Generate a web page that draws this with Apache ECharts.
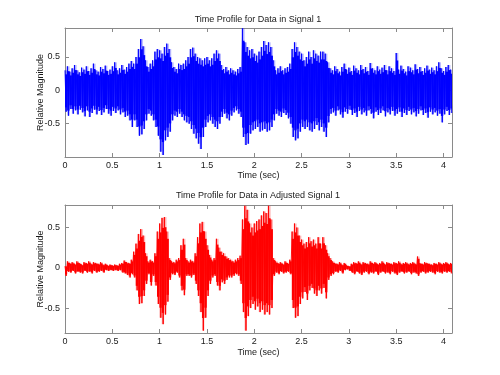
<!DOCTYPE html>
<html>
<head>
<meta charset="utf-8">
<script src="https://cdn.jsdelivr.net/npm/echarts@6/dist/echarts.min.js"></script>
<style>
html,body{margin:0;padding:0;background:#fff;}
#chart{width:500px;height:375px;}
</style>
</head>
<body>
<div id="chart"></div>
<script>
// ---- data (envelope of the waveform per 0.025 s bin) ----
const timeStep = 0.025;
const xTicks = [0, 0.5, 1, 1.5, 2, 2.5, 3, 3.5, 4];
const yTicks = [-0.5, 0, 0.5];
const plotTitles = ['Time Profile for Data in Signal 1', 'Time Profile for Data in Adjusted Signal 1'];

const signalHigh = [
 0.30,0.36,0.28,0.33,0.38,0.30,0.27,0.34,0.31,0.36,
 0.29,0.33,0.40,0.30,0.28,0.35,0.32,0.37,0.29,0.31,
 0.36,0.42,0.30,0.33,0.38,0.31,0.35,0.40,0.44,
 0.40,0.50,0.62,0.77,0.66,0.45,0.35,0.40,0.45,0.58,
 0.62,0.60,0.55,0.65,0.70,0.62,0.42,0.35,0.32,0.40,
 0.38,0.40,0.45,0.50,0.62,0.64,0.55,0.50,0.48,0.45,
 0.48,0.50,0.45,0.48,0.55,0.60,0.55,0.38,0.32,0.35,
 0.30,0.33,0.30,0.28,0.32,0.35,0.93,0.72,0.65,0.60,
 0.62,0.55,0.52,0.58,0.65,0.74,0.68,0.72,0.65,0.45,
 0.30,0.33,0.36,0.30,0.33,0.35,0.40,0.62,0.72,0.65,
 0.58,0.55,0.45,0.50,0.58,0.50,0.60,0.55,0.52,0.58,
 0.58,0.55,0.42,0.33,
 0.30,0.36,0.32,0.28,0.35,0.40,0.31,0.34,0.29,0.37,
 0.33,0.30,0.38,0.32,0.35,0.29,0.41,0.33,0.30,0.36,
 0.31,0.34,0.38,0.30,0.36,0.33,0.29,0.56,0.31,0.37,
 0.32,0.28,0.36,0.34,0.30,0.39,0.32,0.35,0.29,0.33,
 0.37,0.31,0.34,0.30,0.36,0.42,0.33,0.29,0.35,0.38,0.31
];
const signalLow = [
 -0.32,-0.38,-0.28,-0.35,-0.30,-0.36,-0.29,-0.33,-0.39,-0.30,
 -0.40,-0.34,-0.29,-0.36,-0.31,-0.37,-0.33,-0.28,-0.35,-0.38,
 -0.31,-0.34,-0.30,-0.36,-0.33,-0.40,-0.38,-0.45,-0.55,
 -0.45,-0.55,-0.68,-0.66,-0.58,-0.45,-0.35,-0.38,-0.45,-0.55,
 -0.68,-0.92,-0.97,-0.75,-0.70,-0.62,-0.45,-0.38,-0.40,-0.35,
 -0.40,-0.45,-0.48,-0.50,-0.58,-0.65,-0.72,-0.80,-0.88,-0.70,
 -0.55,-0.48,-0.45,-0.50,-0.55,-0.58,-0.50,-0.40,-0.35,-0.42,
 -0.45,-0.38,-0.33,-0.30,-0.35,-0.40,-0.70,-0.82,-0.80,-0.65,
 -0.60,-0.58,-0.55,-0.62,-0.60,-0.58,-0.62,-0.60,-0.55,-0.45,
 -0.35,-0.38,-0.40,-0.34,-0.37,-0.42,-0.50,-0.70,-0.75,-0.72,
 -0.62,-0.55,-0.58,-0.55,-0.60,-0.62,-0.58,-0.52,-0.60,-0.55,
 -0.62,-0.70,-0.48,-0.35,
 -0.33,-0.38,-0.30,-0.36,-0.41,-0.32,-0.35,-0.29,-0.37,-0.34,
 -0.40,-0.31,-0.36,-0.33,-0.38,-0.30,-0.35,-0.42,-0.32,-0.37,
 -0.34,-0.30,-0.39,-0.33,-0.36,-0.31,-0.38,-0.35,-0.32,-0.40,
 -0.34,-0.37,-0.31,-0.36,-0.33,-0.39,-0.35,-0.30,-0.37,-0.34,
 -0.41,-0.32,-0.36,-0.33,-0.38,-0.35,-0.48,-0.36,-0.31,-0.37,-0.34
];
const adjustedHigh = [
 0.02,0.08,0.06,0.07,0.05,0.08,0.06,0.04,0.07,0.06,
 0.08,0.05,0.07,0.06,0.05,0.07,0.04,0.05,0.03,0.04,
 0.03,0.04,0.03,0.05,
 0.06,0.09,0.07,0.06,0.10,0.20,0.30,0.42,0.48,0.40,
 0.18,0.08,0.10,0.08,0.18,0.45,0.55,0.62,0.63,0.45,
 0.12,0.08,0.07,0.10,0.12,0.28,0.36,0.12,0.08,0.10,
 0.08,0.18,0.38,0.55,0.57,0.45,0.28,0.16,0.10,0.12,
 0.36,0.25,0.20,0.18,0.14,0.12,0.10,0.08,0.10,0.12,
 0.15,0.60,0.77,0.72,0.55,0.50,0.55,0.58,0.60,0.65,
 0.70,0.68,0.77,0.60,0.12,0.08,0.06,0.07,0.05,0.08,
 0.06,0.10,0.45,0.55,0.50,0.40,0.35,0.30,0.32,0.38,
 0.33,0.35,0.30,0.38,0.30,0.38,0.28,0.18,0.12,0.08,
 0.06,0.05,0.07,0.04,0.06,0.03,0.02,0.05,0.07,0.06,
 0.08,0.05,0.07,0.06,0.05,0.08,0.06,0.07,0.05,0.06,
 0.08,0.05,0.07,0.06,0.05,0.07,0.06,0.08,0.05,0.06,
 0.07,0.05,0.06,0.07,0.05,0.14,0.06,0.05,0.07,0.06,
 0.05,0.04,0.06,0.05,0.07,0.05,0.06,0.07,0.05,0.06
];
const adjustedLow = [
 -0.10,-0.05,-0.06,-0.04,-0.07,-0.05,-0.06,-0.07,-0.04,-0.06,
 -0.05,-0.07,-0.04,-0.06,-0.05,-0.04,-0.06,-0.03,-0.04,-0.03,
 -0.04,-0.03,-0.04,-0.03,
 -0.06,-0.07,-0.09,-0.12,-0.08,-0.12,-0.28,-0.45,-0.44,-0.35,
 -0.20,-0.08,-0.22,-0.10,-0.22,-0.45,-0.62,-0.70,-0.58,-0.42,
 -0.15,-0.08,-0.09,-0.06,-0.12,-0.28,-0.34,-0.10,-0.10,-0.12,
 -0.09,-0.20,-0.35,-0.55,-0.78,-0.62,-0.35,-0.20,-0.12,-0.10,
 -0.22,-0.28,-0.18,-0.20,-0.15,-0.12,-0.12,-0.10,-0.08,-0.10,
 -0.20,-0.55,-0.78,-0.60,-0.50,-0.45,-0.52,-0.48,-0.55,-0.52,
 -0.58,-0.55,-0.58,-0.50,-0.10,-0.06,-0.08,-0.05,-0.07,-0.06,
 -0.05,-0.08,-0.50,-0.62,-0.60,-0.45,-0.38,-0.30,-0.40,-0.28,
 -0.25,-0.32,-0.35,-0.28,-0.32,-0.25,-0.38,-0.15,-0.10,-0.08,
 -0.05,-0.06,-0.04,-0.07,-0.03,-0.02,-0.04,-0.06,-0.08,-0.05,
 -0.07,-0.09,-0.06,-0.05,-0.08,-0.06,-0.07,-0.05,-0.09,-0.06,
 -0.05,-0.07,-0.06,-0.08,-0.05,-0.07,-0.09,-0.06,-0.05,-0.07,
 -0.06,-0.05,-0.08,-0.06,-0.07,-0.10,-0.06,-0.05,-0.07,-0.06,
 -0.05,-0.06,-0.08,-0.05,-0.06,-0.07,-0.05,-0.06,-0.05,-0.07
];

// ---- helpers building series data from the arrays ----
function trace(hi, lo) {
  const d = [];
  for (let k = 0; k < hi.length; k++) {
    const t = k * timeStep;
    d.push([t, hi[k]]);
    d.push([t + timeStep / 2, lo[k]]);
  }
  return d;
}
function bins(hi, lo) {
  return hi.map((h, k) => [k * timeStep, h, lo[k]]);
}

function bandRenderer(color, frac, opacity) {
  return function (params, api) {
    const t = api.value(0), h = api.value(1), l = api.value(2);
    const a = api.coord([t - timeStep * 0.1, h * frac]);
    const b = api.coord([t + timeStep * 0.9, l * frac]);
    return {
      type: 'rect',
      shape: { x: a[0], y: a[1], width: b[0] - a[0], height: b[1] - a[1] },
      style: { fill: color, opacity: opacity }
    };
  };
}

const FONT = 'Liberation Sans, Arial, Helvetica, sans-serif';
const BOX = '#8a8a8a';
const TXT = '#1a1a1a';

function xAxes(gridIndex, nameGap) {
  return [
    {
      type: 'value', gridIndex, min: 0, max: 4.09, position: 'bottom',
      axisLine: { show: true, onZero: false, lineStyle: { color: BOX, width: 1 } },
      axisTick: { show: true, inside: true, length: 4, customValues: xTicks, lineStyle: { color: BOX } },
      axisLabel: { customValues: xTicks, color: TXT, fontSize: 9, fontFamily: FONT, margin: 4 },
      splitLine: { show: false },
      name: 'Time (sec)', nameLocation: 'middle', nameGap: nameGap, nameMoveOverlap: false,
      nameTextStyle: { color: TXT, fontSize: 9, fontFamily: FONT }
    },
    {
      type: 'value', gridIndex, min: 0, max: 4.09, position: 'top',
      axisLine: { show: true, onZero: false, lineStyle: { color: BOX, width: 1 } },
      axisTick: { show: true, inside: true, length: 4, customValues: xTicks, lineStyle: { color: BOX } },
      axisLabel: { show: false },
      splitLine: { show: false }
    }
  ];
}
function yAxes(gridIndex, min, max) {
  return [
    {
      type: 'value', gridIndex, min, max, position: 'left',
      axisLine: { show: true, onZero: false, lineStyle: { color: BOX, width: 1 } },
      axisTick: { show: true, inside: true, length: 4, customValues: yTicks, lineStyle: { color: BOX } },
      axisLabel: { customValues: yTicks, color: TXT, fontSize: 9, fontFamily: FONT, margin: 5 },
      splitLine: { show: false },
      name: 'Relative Magnitude', nameLocation: 'middle', nameGap: 20, nameMoveOverlap: false,
      nameTextStyle: { color: TXT, fontSize: 9, fontFamily: FONT }
    },
    {
      type: 'value', gridIndex, min, max, position: 'right',
      axisLine: { show: true, onZero: false, lineStyle: { color: BOX, width: 1 } },
      axisTick: { show: true, inside: true, length: 4, customValues: yTicks, lineStyle: { color: BOX } },
      axisLabel: { show: false },
      splitLine: { show: false }
    }
  ];
}

function waveSeries(xi, yi, hi, lo, color) {
  return [
    {
      type: 'custom', xAxisIndex: xi, yAxisIndex: yi, data: bins(hi, lo),
      encode: { x: 0, y: [1, 2] }, renderItem: bandRenderer(color, 1.0, 0.3), z: 1, clip: true
    },
    {
      type: 'line', xAxisIndex: xi, yAxisIndex: yi, data: trace(hi, lo),
      showSymbol: false, symbol: 'none', sampling: null, z: 2,
      lineStyle: { color: color, width: 1, opacity: 0.9 }, itemStyle: { color: color }
    },
    {
      type: 'custom', xAxisIndex: xi, yAxisIndex: yi, data: bins(hi, lo),
      encode: { x: 0, y: [1, 2] }, renderItem: bandRenderer(color, 0.8, 1), z: 3, clip: true
    }
  ];
}

const chart = echarts.init(document.getElementById('chart'), null, { renderer: 'canvas' });
chart.setOption({
  backgroundColor: '#ffffff',
  animation: false,
  grid: [
    { left: 65, top: 28, width: 387, height: 129 },
    { left: 65, top: 205, width: 387, height: 128 }
  ],
  xAxis: [...xAxes(0, 14), ...xAxes(1, 15)],
  yAxis: [...yAxes(0, -1.0, 0.935), ...yAxes(1, -0.81, 0.78)],
  graphic: [
    { type: 'text', x: 258, y: 19.5, style: { text: plotTitles[0], fill: TXT, fontSize: 9, fontFamily: FONT, align: 'center', verticalAlign: 'middle', textAlign: 'center', textVerticalAlign: 'middle' } },
    { type: 'text', x: 258, y: 195.5, style: { text: plotTitles[1], fill: TXT, fontSize: 9, fontFamily: FONT, align: 'center', verticalAlign: 'middle', textAlign: 'center', textVerticalAlign: 'middle' } }
  ],
  series: [
    ...waveSeries(0, 0, signalHigh, signalLow, '#0000ff'),
    ...waveSeries(2, 2, adjustedHigh, adjustedLow, '#ff0000')
  ]
});
</script>
</body>
</html>
